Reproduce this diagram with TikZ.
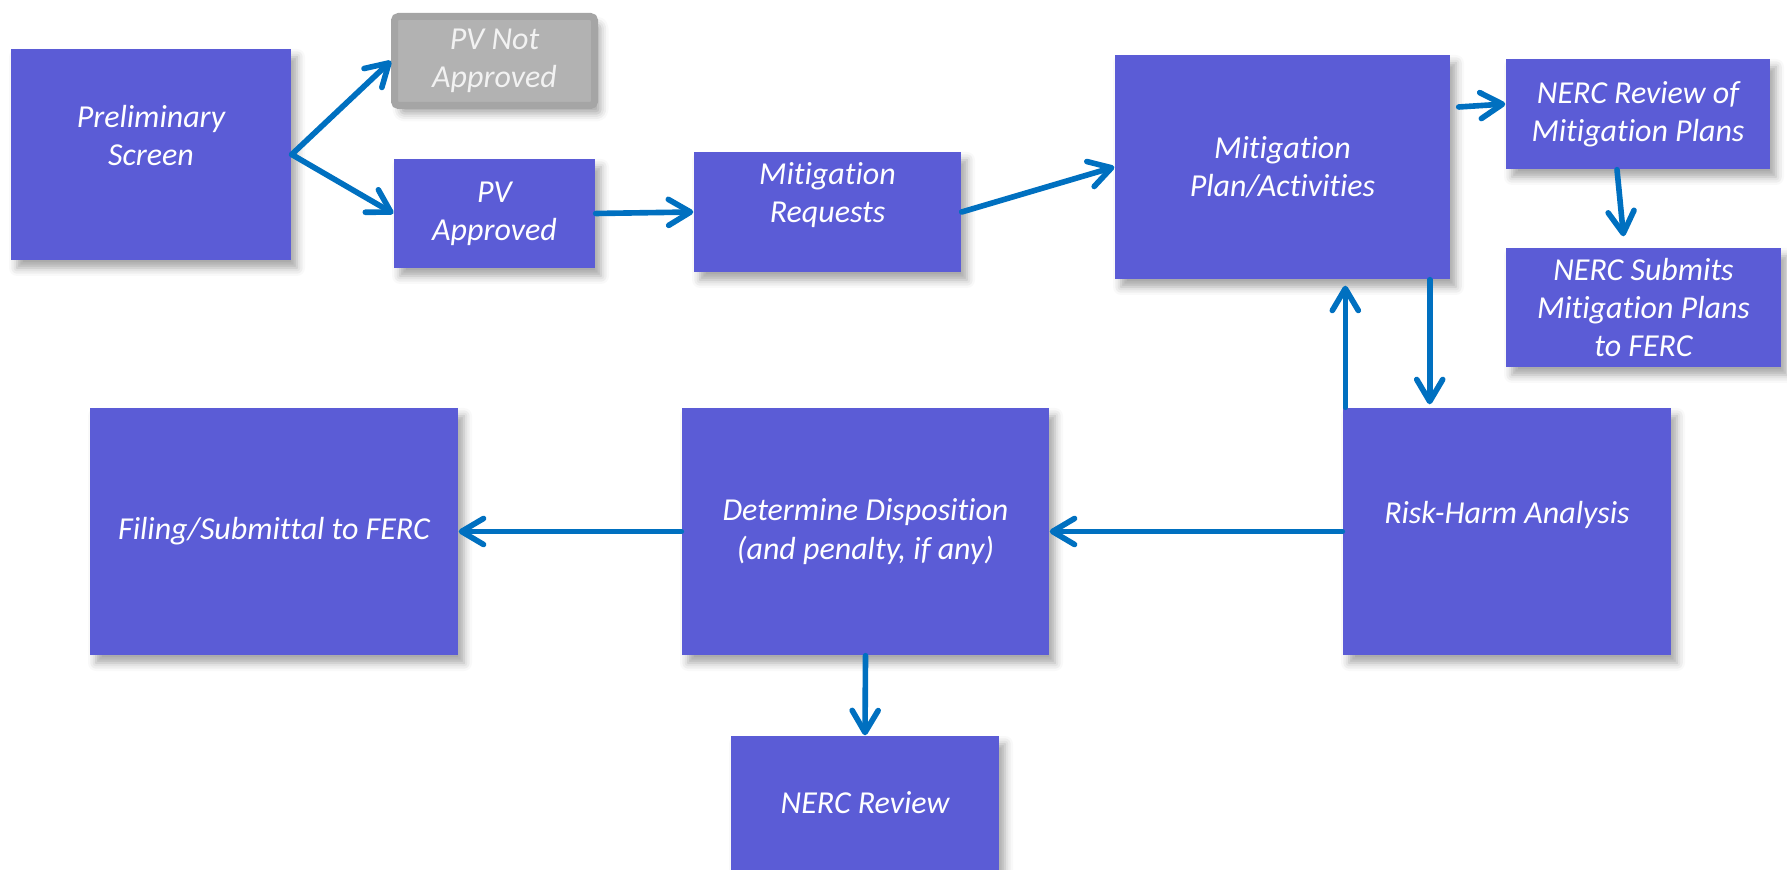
\documentclass[tikz,border=0pt]{standalone}
\usepackage{fontspec}
\setmainfont{Carlito}[Ligatures=NoCommon]
\usetikzlibrary{arrows.meta,calc,shadows.blur}
\definecolor{boxblue}{RGB}{91,92,214}
\definecolor{flowblue}{RGB}{0,112,192}
\definecolor{greyfill}{RGB}{178,178,178}
\definecolor{greyedge}{RGB}{165,165,165}
\tikzset{
  proc/.style={
    fill=boxblue,
    text=white,
    align=center,
    inner sep=0pt,
    font=\fontsize{9.1}{10.9}\selectfont\itshape,
    blur shadow={shadow xshift=0.6mm, shadow yshift=-0.8mm, shadow blur radius=0.8mm, shadow opacity=35}
  },
  rejected/.style={
    proc,
    fill=greyfill,
    draw=greyedge,
    line width=0.7mm,
    rounded corners=0.4mm,
    text=white!95!black
  },
  flow/.style={
    draw=flowblue,
    line width=1.6pt,
    line cap=round,
    -{Straight Barb[length=2.2mm,width=2.6mm,round]}
  }
}
\begin{document}
\begin{tikzpicture}
  \useasboundingbox (0,0) rectangle (17.87,-8.70);
  % top row
  \node[proc, minimum width=2.80cm, minimum height=2.11cm] (prelim) at (1.51,-1.545) {Preliminary\\Screen\\\mbox{}};
  \node[rejected, minimum width=2.00cm, minimum height=0.89cm] (notappr) at (4.945,-0.61) {PV Not\\Approved};
  \node[proc, minimum width=2.01cm, minimum height=1.09cm] (appr) at (4.945,-2.135) {PV\\Approved};
  \node[proc, minimum width=2.67cm, minimum height=1.20cm] (mreq) at (8.275,-2.12) {Mitigation\\Requests\\\mbox{}};
  \node[proc, minimum width=3.35cm, minimum height=2.24cm] (mplan) at (12.825,-1.67) {Mitigation\\Plan/Activities};
  \node[proc, minimum width=2.64cm, minimum height=1.10cm] (nrevplan) at (16.38,-1.14) {NERC Review of\\Mitigation Plans};
  \node[proc, minimum width=2.75cm, minimum height=1.19cm] (nsubmit) at (16.435,-3.075) {NERC Submits\\Mitigation Plans\\to FERC};
  % bottom row
  \node[proc, minimum width=3.28cm, minimum height=2.47cm] (risk) at (15.07,-5.315) {Risk-Harm Analysis\\\mbox{}};
  \node[proc, minimum width=3.67cm, minimum height=2.47cm] (dispo) at (8.655,-5.315) {Determine Disposition\\(and penalty, if any)};
  \node[proc, minimum width=3.68cm, minimum height=2.47cm] (filing) at (2.74,-5.315) {Filing/Submittal to FERC};
  \node[proc, minimum width=2.68cm, minimum height=1.34cm] (nrev) at (8.65,-8.03) {NERC Review};

  \draw[flow] (prelim.east) -- (notappr.west);
  \draw[flow] (prelim.east) -- (appr.west);
  \draw[flow] (appr.east) -- (mreq.west);
  \draw[flow] (mreq.east) -- (mplan.west);
  \draw[flow] ([xshift=0.8mm,yshift=6mm]mplan.east) -- ([yshift=1mm]nrevplan.west);
  \draw[flow] ([xshift=-2.1mm]nrevplan.south) -- ([xshift=-2.0mm,yshift=1.1mm]nsubmit.north);
  \draw[flow] ($(risk.north west)+(0.03,0)$) -- ($(risk.north west |- mplan.south)+(0.03,-0.06)$);
  \draw[flow] ($(mplan.south east)+(-0.21,0)$) -- ($(mplan.south east |- risk.north)+(-0.21,0.03)$);
  \draw[flow] (risk.west) -- (dispo.east);
  \draw[flow] (dispo.west) -- (filing.east);
  \draw[flow] (dispo.south) -- (nrev.north);
\end{tikzpicture}
\end{document}
